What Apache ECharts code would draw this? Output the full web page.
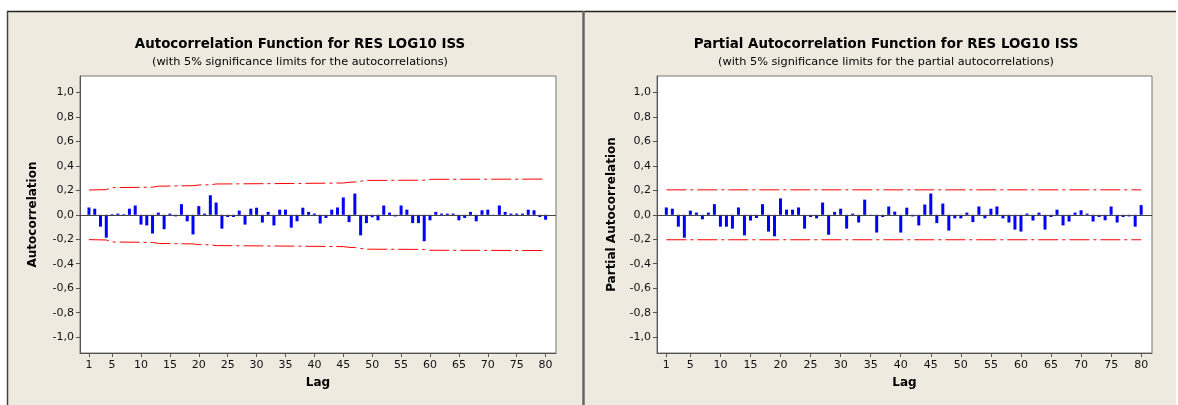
<!DOCTYPE html>
<html><head><meta charset="utf-8">
<script src="https://cdn.jsdelivr.net/npm/echarts@6/dist/echarts.min.js"></script>
<style>html,body{margin:0;padding:0;background:#fff}#c{width:1178px;height:405px}</style>
</head><body><div id="c"></div>
<script>
const lags = [1,2,3,4,5,6,7,8,9,10,11,12,13,14,15,16,17,18,19,20,21,22,23,24,25,26,27,28,29,30,31,32,33,34,35,36,37,38,39,40,41,42,43,44,45,46,47,48,49,50,51,52,53,54,55,56,57,58,59,60,61,62,63,64,65,66,67,68,69,70,71,72,73,74,75,76,77,78,79,80];
const xTickLabels = [1,5,10,15,20,25,30,35,40,45,50,55,60,65,70,75,80];
const yTickValues = [-1,-0.8,-0.6,-0.4,-0.2,0,0.2,0.4,0.6,0.8,1];

const acfValues = [0.06,0.05,-0.097,-0.187,0.005,0.01,0.005,0.05,0.076,-0.08,
  -0.087,-0.153,0.018,-0.118,0.01,-0.013,0.087,-0.053,-0.16,0.071,
  0.01,0.16,0.10,-0.113,-0.018,-0.018,0.034,-0.08,0.05,0.058,
  -0.063,0.024,-0.087,0.042,0.042,-0.105,-0.053,0.058,0.024,0.01,
  -0.071,-0.026,0.042,0.06,0.142,-0.06,0.174,-0.168,-0.068,-0.02,
  -0.045,0.076,0.018,-0.013,0.076,0.042,-0.068,-0.068,-0.216,-0.045,
  0.024,0.01,0.01,0.01,-0.045,-0.026,0.024,-0.053,0.037,0.042,
  -0.008,0.076,0.024,0.01,0.01,0.01,0.042,0.037,-0.018,-0.04];

const pacfValues = [0.06,0.05,-0.097,-0.187,0.034,0.018,-0.037,0.018,0.087,-0.097,
  -0.097,-0.113,0.06,-0.168,-0.047,-0.026,0.087,-0.137,-0.176,0.134,
  0.042,0.042,0.06,-0.113,-0.018,-0.029,0.10,-0.163,0.024,0.05,
  -0.113,0.01,-0.063,0.124,-0.01,-0.145,-0.018,0.068,0.026,-0.145,
  0.058,-0.013,-0.087,0.084,0.174,-0.068,0.092,-0.129,-0.029,-0.029,
  0.018,-0.06,0.068,-0.029,0.05,0.068,-0.029,-0.063,-0.121,-0.137,
  0.01,-0.047,0.018,-0.121,-0.018,0.042,-0.087,-0.055,0.018,0.037,
  0.01,-0.055,-0.018,-0.045,0.068,-0.063,-0.018,-0.013,-0.097,0.079];

const acfLimitLags   = [1,4,5,12,13,19,20,22,23,36,45,46,47,48,49,59,60,80];
const acfLimitValues = [0.203,0.206,0.222,0.226,0.234,0.238,0.244,0.245,0.252,0.256,0.26,0.266,0.268,0.275,0.281,0.283,0.29,0.292];
const pacfLimitLags   = [1,80];
const pacfLimitValues = [0.204,0.204];

const titles = ['Autocorrelation Function for RES LOG10 ISS','Partial Autocorrelation Function for RES LOG10 ISS'];
const subtitles = ['(with 5% significance limits for the autocorrelations)','(with 5% significance limits for the partial autocorrelations)'];
const yNames = ['Autocorrelation','Partial Autocorrelation'];
const xName = 'Lag';

const FONT = "'DejaVu Sans', sans-serif";
const chart = echarts.init(document.getElementById('c'), null, {renderer:'canvas'});
const fmt = v => (Math.abs(v) < 1e-9 ? '0,0' : v.toFixed(1).replace('.', ','));
const grids = [
  {left:80, top:76, width:476, height:277},
  {left:657, top:76, width:495, height:277}
];
const centers = [295, 881];
const dash = [20,4,3,4];

function xAx(i){
  return {type:'value', gridIndex:i, min:-0.55, max:81.8,
    name:xName, nameLocation:'middle', nameGap:24,
    nameTextStyle:{fontFamily:FONT, fontWeight:'bold', fontSize:12, color:'#000'},
    axisLine:{show:true, onZero:false, lineStyle:{color:'#555', width:1}},
    axisTick:{show:true, length:4, customValues:xTickLabels, lineStyle:{color:'#555'}},
    axisLabel:{customValues:xTickLabels, margin:7, fontFamily:FONT, fontSize:11, color:'#111'},
    splitLine:{show:false}};
}
function yAx(i, gap){
  return {type:'value', gridIndex:i, min:-1.13, max:1.135,
    name:yNames[i], nameLocation:'middle', nameGap:gap,
    nameTextStyle:{fontFamily:FONT, fontWeight:'bold', fontSize:12, color:'#000'},
    axisLine:{show:true, onZero:false, lineStyle:{color:'#555', width:1}},
    axisTick:{show:true, length:4, customValues:yTickValues, lineStyle:{color:'#555'}},
    axisLabel:{customValues:yTickValues, margin:6, fontFamily:FONT, fontSize:11, color:'#111', formatter:fmt},
    splitLine:{show:false}};
}
function limitSeries(i, ls, vs, sign){
  return {type:'line', xAxisIndex:i, yAxisIndex:i, symbol:'none', silent:true,
    data: ls.map((l,k)=>[l, sign*vs[k]]),
    lineStyle:{color:'#ff0000', width:1, type:dash}, z:3};
}
function barSeries(i, vals){
  return {type:'bar', xAxisIndex:i, yAxisIndex:i, barWidth:3, silent:true,
    data: lags.map((l,k)=>[l, vals[k]]),
    itemStyle:{color:'#0000ff'}, z:4,
    markLine:{symbol:'none', silent:true, label:{show:false},
      lineStyle:{color:'#444', width:1, type:'solid'}, data:[{yAxis:0}]}};
}

const option = {
  backgroundColor:'#ffffff',
  animation:false,
  graphic:[
    {type:'rect', z:-10, shape:{x:7, y:11, width:577, height:394}, style:{fill:'#EEEAE0'}},
    {type:'rect', z:-10, shape:{x:584, y:11, width:592, height:394}, style:{fill:'#EEEAE0'}},
    {type:'line', z:-9, shape:{x1:7, y1:11.5, x2:1176, y2:11.5}, style:{stroke:'#222', lineWidth:1.5}},
    {type:'line', z:-9, shape:{x1:7.5, y1:11, x2:7.5, y2:405}, style:{stroke:'#444', lineWidth:1.5}},
    {type:'line', z:-9, shape:{x1:583.5, y1:11, x2:583.5, y2:405}, style:{stroke:'#666', lineWidth:2.5}}
  ],
  title:[
    {text:titles[0], left:centers[0], top:33, textAlign:'center', textStyle:{fontFamily:FONT, fontSize:13.4, fontWeight:'bold', color:'#000'}},
    {text:subtitles[0], left:centers[0], top:52, textAlign:'center', textStyle:{fontFamily:FONT, fontSize:11.3, fontWeight:'normal', color:'#000'}},
    {text:titles[1], left:centers[1], top:33, textAlign:'center', textStyle:{fontFamily:FONT, fontSize:13.4, fontWeight:'bold', color:'#000'}},
    {text:subtitles[1], left:centers[1], top:52, textAlign:'center', textStyle:{fontFamily:FONT, fontSize:11.3, fontWeight:'normal', color:'#000'}}
  ],
  grid: grids.map(g=>Object.assign({show:true, backgroundColor:'#fff', borderColor:'#777', borderWidth:1, containLabel:false}, g)),
  xAxis:[xAx(0), xAx(1)],
  yAxis:[yAx(0, 41), yAx(1, 39)],
  series:[
    barSeries(0, acfValues),
    limitSeries(0, acfLimitLags, acfLimitValues, 1),
    limitSeries(0, acfLimitLags, acfLimitValues, -1),
    barSeries(1, pacfValues),
    limitSeries(1, pacfLimitLags, pacfLimitValues, 1),
    limitSeries(1, pacfLimitLags, pacfLimitValues, -1)
  ]
};
chart.setOption(option);
</script></body></html>
